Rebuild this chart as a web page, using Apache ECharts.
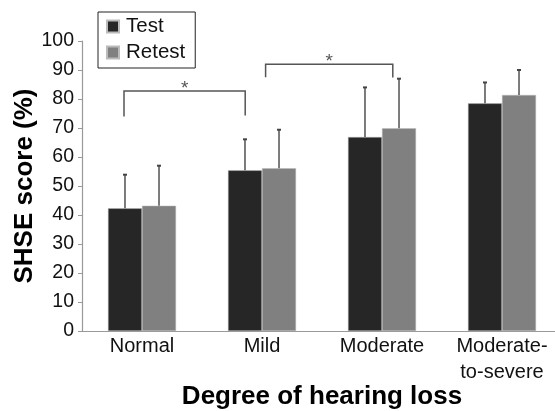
<!DOCTYPE html>
<html>
<head>
    <meta charset="UTF-8">
    <title>SHSE score</title>
    <script type="text/javascript" src="https://cdn.jsdelivr.net/npm/echarts@6/dist/echarts.min.js"></script>
    <style>
        html, body { margin: 0; padding: 0; background: #fff; }
        #main { width: 555px; height: 411px; }
    </style>
</head>
<body>
<div id="main"></div>
<script type="text/javascript">
    var categories = ['Normal', 'Mild', 'Moderate', 'Moderate-\nto-severe'];
    var testMean = [42.3, 55.4, 66.9, 78.5];
    var testUpper = [53.9, 66.1, 84.0, 85.7];
    var retestMean = [43.2, 56.1, 69.9, 81.4];
    var retestUpper = [57.0, 69.4, 87.0, 90.0];
    var yTicks = [0, 10, 20, 30, 40, 50, 60, 70, 80, 90, 100];
    // brackets: [left x, right x, top, left leg end, right leg end] (x in category units)
    var brackets = [
        [-0.15, 0.86, 82.8, 74.0, 74.3],
        [1.03, 2.09, 92.0, 87.5, 87.4]
    ];

    var font = "'Liberation Sans', Arial, sans-serif";
    var catGap = 0.433;

    // error bar renderer, side -1 = Test, +1 = Retest
    function errRender(side) {
        return function (params, api) {
            var band = api.size([1, 0])[0];
            var barW = band * (1 - catGap) / 2;
            var c = api.coord([api.value(0), api.value(1)]);
            var t = api.coord([api.value(0), api.value(2)]);
            var x = c[0] + side * barW / 2;
            var st = {stroke: '#444', lineWidth: 1.4};
            return {
                type: 'group',
                children: [
                    {type: 'line', shape: {x1: x, y1: c[1], x2: x, y2: t[1]}, style: st},
                    {type: 'line', shape: {x1: x - 2, y1: t[1], x2: x + 2, y2: t[1]}, style: {stroke: '#444', lineWidth: 2}}
                ]
            };
        };
    }

    function bracketRender(params, api) {
        var l = api.coord([api.value(0), api.value(2)]);
        var r = api.coord([api.value(1), api.value(2)]);
        var lb = api.coord([api.value(0), api.value(3)]);
        var rb = api.coord([api.value(1), api.value(4)]);
        return {
            type: 'group',
            children: [
                {
                    type: 'polyline',
                    shape: {points: [[lb[0], lb[1]], [l[0], l[1]], [r[0], r[1]], [rb[0], rb[1]]]},
                    style: {stroke: '#555', lineWidth: 1.5, fill: null}
                },
                {
                    type: 'text',
                    style: {
                        text: '*', x: (l[0] + r[0]) / 2, y: l[1] + 7,
                        align: 'center', verticalAlign: 'bottom',
                        font: '19px ' + font, fill: '#555'
                    }
                }
            ]
        };
    }

    var chart = echarts.init(document.getElementById('main'));
    chart.setOption({
        animation: false,
        textStyle: {fontFamily: font},
        grid: {left: 82, top: 41, width: 480, height: 290, outerBoundsMode: 'none', containLabel: false},
        legend: {
            data: ['Test', 'Retest'],
            orient: 'vertical',
            left: 98, top: 12,
            padding: [4, 10, 5, 8],
            itemGap: 5,
            itemWidth: 12, itemHeight: 12,
            icon: 'rect',
            borderColor: '#222', borderWidth: 1,
            textStyle: {fontSize: 20.5, color: '#111', fontFamily: font, padding: [0, 0, 0, 2]}
        },
        xAxis: [{
            type: 'category',
            data: categories,
            name: 'Degree of hearing loss',
            nameLocation: 'middle',
            nameGap: 53,
            nameMoveOverlap: false,
            nameTextStyle: {fontSize: 26, fontWeight: 'bold', color: '#000', fontFamily: font},
            axisLine: {lineStyle: {color: '#999', width: 1.2}},
            axisTick: {length: 4, lineStyle: {color: '#999'}},
            axisLabel: {interval: 0, hideOverlap: false, fontSize: 20, color: '#111', margin: 2, lineHeight: 26, fontFamily: font}
        }, {
            type: 'value',
            min: -0.5, max: 3.5,
            show: false
        }],
        yAxis: {
            type: 'value',
            min: yTicks[0], max: yTicks[yTicks.length - 1], interval: 10,
            name: 'SHSE score (%)',
            nameLocation: 'middle',
            nameGap: 44,
            nameMoveOverlap: false,
            nameTextStyle: {fontSize: 26, fontWeight: 'bold', color: '#000', fontFamily: font},
            axisLine: {show: true, onZero: false, lineStyle: {color: '#999', width: 1.2}},
            axisTick: {show: true, length: 4, lineStyle: {color: '#999'}},
            axisLabel: {fontSize: 19.5, color: '#111', margin: 8, fontFamily: font},
            splitLine: {show: false}
        },
        series: [{
            name: 'Test', type: 'bar',
            data: testMean,
            barGap: '0%', barCategoryGap: (catGap * 100) + '%',
            itemStyle: {color: '#262626', borderColor: '#bbb', borderWidth: 0.5}
        }, {
            name: 'Retest', type: 'bar',
            data: retestMean,
            itemStyle: {color: '#808080', borderColor: '#bbb', borderWidth: 0.5}
        }, {
            name: 'testErr', type: 'custom',
            renderItem: errRender(-1),
            data: testMean.map(function (v, i) { return [i, v, testUpper[i]]; }),
            encode: {x: 0, y: [1, 2]},
            z: 5
        }, {
            name: 'retestErr', type: 'custom',
            renderItem: errRender(1),
            data: retestMean.map(function (v, i) { return [i, v, retestUpper[i]]; }),
            encode: {x: 0, y: [1, 2]},
            z: 5
        }, {
            name: 'brackets', type: 'custom',
            xAxisIndex: 1,
            renderItem: bracketRender,
            data: brackets,
            encode: {x: [0, 1], y: [2, 3, 4]},
            z: 5
        }]
    });
</script>
</body>
</html>
